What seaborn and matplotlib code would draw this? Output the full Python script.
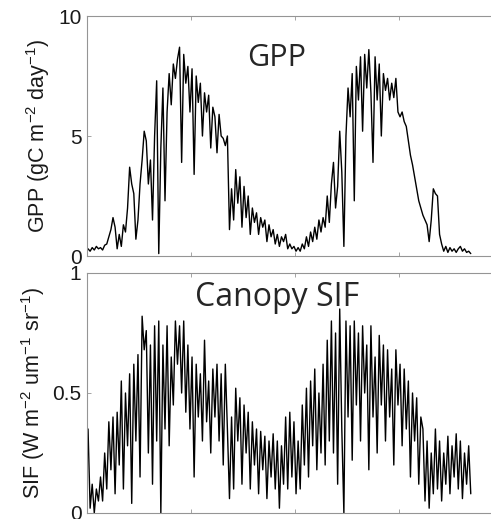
import numpy as np
import pandas as pd
import matplotlib
matplotlib.use("Agg")
import matplotlib.pyplot as plt
import seaborn as sns

# ---- data (one value every 4 days) ----
gpp = [0.3, 0.2, 0.35, 0.25, 0.4, 0.3, 0.35, 0.25, 0.45, 0.5,
       0.8, 1.1, 1.6, 1.2, 0.3, 0.9, 0.4, 1.3, 1.0, 2.0,
       3.7, 3.0, 2.6, 0.7, 1.5, 3.0, 4.0, 5.2, 4.8, 3.0,
       4.0, 1.5, 5.0, 7.3, 0.1, 4.5, 7.0, 2.3, 6.0, 7.6,
       6.3, 8.0, 7.4, 8.2, 8.7, 3.9, 8.4, 7.2, 7.9, 6.0,
       7.8, 3.4, 7.5, 6.4, 7.2, 5.0, 6.8, 6.0, 6.7, 4.5,
       6.2, 5.8, 4.3, 5.9, 5.0, 4.9, 4.6, 5.0, 1.1, 2.8,
       1.5, 3.6, 2.2, 3.3, 1.2, 2.9, 1.6, 2.5, 0.9, 2.0,
       1.4, 1.8, 0.9, 1.6, 1.2, 1.5, 0.6, 1.3, 0.8, 1.1,
       0.5, 0.9, 0.4, 0.8, 0.6, 0.9, 0.3, 0.5, 0.3, 0.4,
       0.2, 0.35, 0.2, 0.5, 0.3, 0.8, 0.4, 1.0, 0.6, 1.2,
       0.7, 1.5, 1.0, 1.6, 1.2, 2.5, 1.4, 3.0, 3.9, 2.0,
       2.9, 5.2, 3.5, 0.4, 5.0, 7.0, 5.8, 7.6, 2.3, 7.9,
       6.5, 8.3, 5.2, 8.4, 7.0, 8.6, 6.8, 3.9, 8.3, 6.5,
       8.0, 5.0, 7.6, 6.9, 7.4, 6.5, 7.2, 6.6, 7.4, 6.0,
       5.8, 6.0, 5.6, 5.4, 4.8, 4.2, 3.8, 3.3, 2.8, 2.3,
       2.0, 1.7, 1.5, 1.3, 0.6, 1.5, 2.8, 2.6, 2.5, 0.9,
       0.5, 0.2, 0.4, 0.15, 0.35, 0.2, 0.3, 0.15, 0.3, 0.4,
       0.2, 0.3, 0.15, 0.2, 0.1]

sif = [0.35, 0.02, 0.12, 0.0, 0.1, 0.05, 0.15, 0.05, 0.25, 0.1,
       0.38, 0.18, 0.4, 0.08, 0.42, 0.2, 0.55, 0.1, 0.5, 0.28,
       0.58, 0.04, 0.62, 0.3, 0.66, 0.15, 0.82, 0.68, 0.76, 0.25,
       0.7, 0.12, 0.78, 0.3, 0.8, 0.0, 0.7, 0.35, 0.78, 0.28,
       0.65, 0.45, 0.8, 0.62, 0.78, 0.5, 0.8, 0.42, 0.7, 0.35,
       0.65, 0.15, 0.62, 0.4, 0.58, 0.3, 0.72, 0.38, 0.55, 0.25,
       0.6, 0.4, 0.62, 0.3, 0.58, 0.2, 0.62, 0.35, 0.06, 0.4,
       0.1, 0.52, 0.3, 0.48, 0.12, 0.45, 0.25, 0.42, 0.1, 0.38,
       0.2, 0.35, 0.08, 0.34, 0.18, 0.32, 0.06, 0.3, 0.15, 0.33,
       0.1, 0.3, 0.02, 0.28, 0.12, 0.4, 0.1, 0.42, 0.15, 0.38,
       0.08, 0.3, 0.1, 0.45, 0.2, 0.52, 0.15, 0.55, 0.28, 0.6,
       0.18, 0.5, 0.25, 0.62, 0.2, 0.72, 0.3, 0.8, 0.25, 0.75,
       0.12, 0.85, 0.35, 0.0, 0.8, 0.4, 0.78, 0.22, 0.8, 0.45,
       0.75, 0.3, 0.78, 0.5, 0.7, 0.18, 0.78, 0.4, 0.65, 0.25,
       0.74, 0.45, 0.7, 0.3, 0.68, 0.4, 0.6, 0.2, 0.68, 0.45,
       0.62, 0.28, 0.6, 0.35, 0.55, 0.15, 0.5, 0.3, 0.48, 0.12,
       0.4, 0.35, 0.05, 0.3, 0.02, 0.25, 0.08, 0.35, 0.1, 0.3,
       0.05, 0.25, 0.12, 0.32, 0.08, 0.28, 0.15, 0.33, 0.1, 0.3,
       0.06, 0.25, 0.12, 0.28, 0.08]

day_step = 4
day_start = 2
days = day_start + day_step * np.arange(len(gpp))

gpp_yticks = [0, 5, 10]
sif_yticks = [0, 0.5, 1]
sif_yticklabels = ["0", "0.5", "1"]
x_ticks = [0, 200, 400, 600, 800]

df_gpp = pd.DataFrame({"day": days, "value": gpp})
df_sif = pd.DataFrame({"day": days, "value": sif})

# ---- style ----
sns.set_style("white")
plt.rcParams["font.family"] = ["Liberation Sans", "DejaVu Sans"]
plt.rcParams["mathtext.fontset"] = "custom"
plt.rcParams["mathtext.rm"] = "Liberation Sans"
plt.rcParams["mathtext.it"] = "Liberation Sans"

fig = plt.figure(figsize=(4.91, 5.19), dpi=100)
W, H = 491.0, 519.0
ax1 = fig.add_axes([87 / W, 1 - 256 / H, 416 / W, 240 / H])
ax2 = fig.add_axes([87 / W, 1 - 513 / H, 416 / W, 240 / H])

for ax, df in ((ax1, df_gpp), (ax2, df_sif)):
    sns.lineplot(data=df, x="day", y="value", ax=ax, color="black",
                 linewidth=1.0, estimator=None, sort=False)
    ax.set_xlim(0, 800)
    ax.set_xticks(x_ticks)
    ax.set_xticklabels([])
    ax.set_xlabel("")
    for s in ax.spines.values():
        s.set_color("#959595")
        s.set_linewidth(0.8)
    ax.tick_params(axis="both", direction="in", length=3, width=0.6,
                   color="#959595", top=True, right=True, bottom=True,
                   left=True, labelsize=15, pad=4, labelcolor="#1a1a1a")

ax1.set_ylim(0, 10)
ax1.set_yticks(gpp_yticks)
ax1.set_ylabel(r"GPP (gC m$^{-2}$ day$^{-1}$)", fontsize=15.5, color="#1a1a1a")
ax1.yaxis.set_label_coords(-0.085, 0.5)
ax1.text(0.455, 0.825, "GPP", transform=ax1.transAxes, ha="center",
         va="center", fontsize=22, family=["Open Sans", "DejaVu Sans"])

ax2.set_ylim(0, 1)
ax2.set_yticks(sif_yticks)
ax2.set_yticklabels(sif_yticklabels)
ax2.set_ylabel(r"SIF (W m$^{-2}$ um$^{-1}$ sr$^{-1}$)", fontsize=15.5, color="#1a1a1a")
ax2.yaxis.set_label_coords(-0.097, 0.5)
ax2.text(0.458, 0.9, "Canopy SIF", transform=ax2.transAxes, ha="center",
         va="center", fontsize=23, family=["Open Sans", "DejaVu Sans"])

fig.savefig("out.png", dpi=100)
